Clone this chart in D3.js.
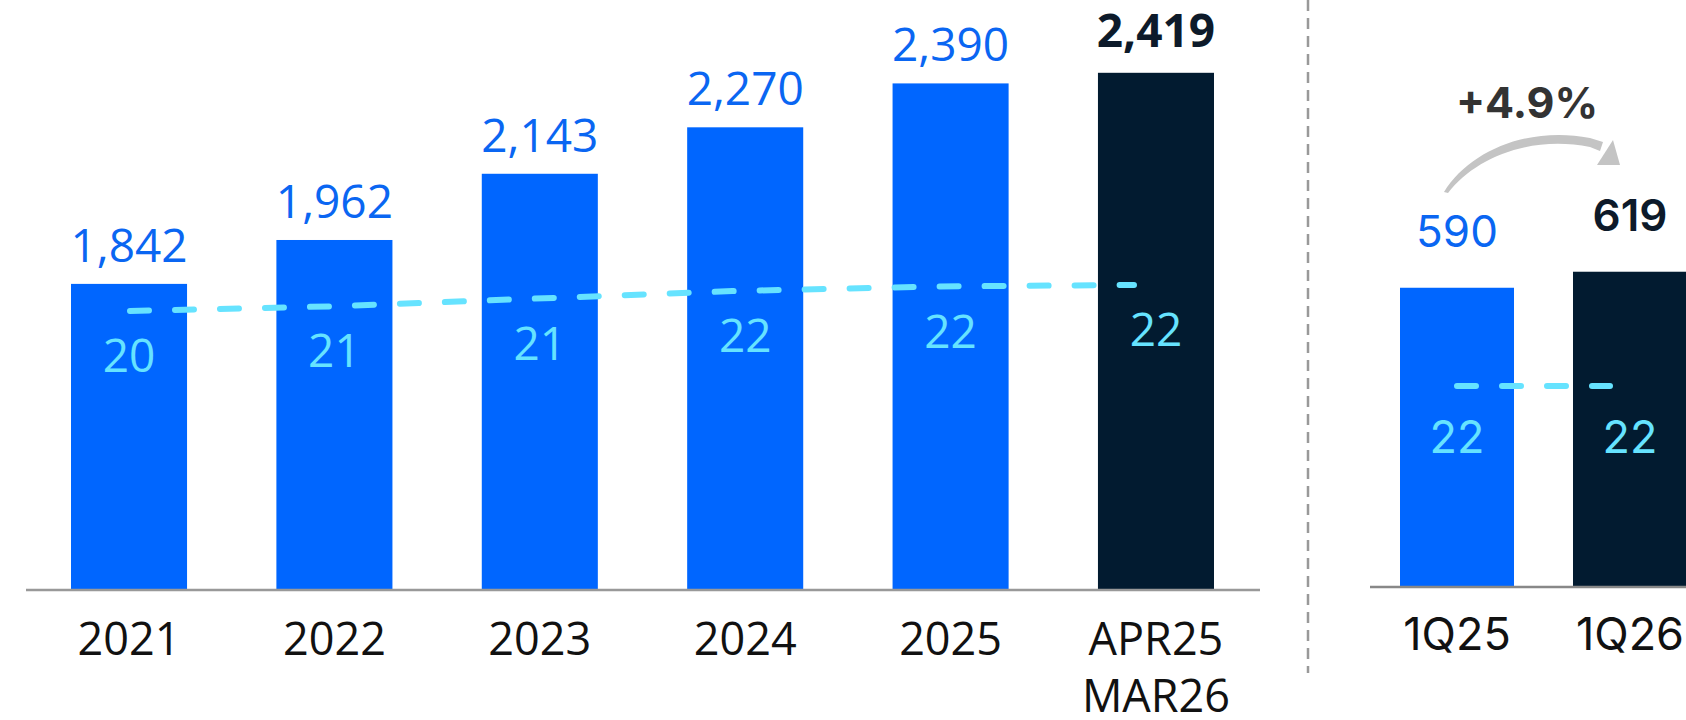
<!DOCTYPE html>
<html><head><meta charset="utf-8">
<script src="https://cdn.jsdelivr.net/npm/d3@7"></script>
<style>html,body{margin:0;padding:0;background:#fff;}svg{display:block;}</style>
</head><body>
<svg id="c" width="1686" height="720"></svg>
<script>
// ---- data ----
const categories = ["2021", "2022", "2023", "2024", "2025", "APR25|MAR26"];
const values = [1842, 1962, 2143, 2270, 2390, 2419];
const lineValues = [20.4, 20.7, 21.2, 21.7, 22.0, 22.1];
const lineLabels = ["20", "21", "21", "22", "22", "22"];

const qCategories = ["1Q25", "1Q26"];
const qValues = [590, 619];
const qLineValues = [22.0, 22.0];
const qLineLabels = ["22", "22"];
const growthLabel = "+4.9%";

// ---- styles ----
const BLUE = "#0066ff", NAVY = "#021b30", CYAN = "#66e3ff", TXTBLUE = "#0a66f2";
const svg = d3.select("#c");

// ---- left panel ----
const x = d3.scaleBand().domain(categories).range([71, 1214]).paddingInner(0.435).paddingOuter(0);
const y = d3.scaleLinear().domain([1008, 2618]).range([589, 0]);
const xl = d3.scalePoint().domain(categories).range([130, 1134]);
const y2 = d3.scaleLinear().domain([20, 22]).range([317.1, 286.5]);
const last = categories.length - 1;

svg.append("g").selectAll("rect").data(categories).join("rect")
  .attr("x", d => x(d)).attr("width", x.bandwidth())
  .attr("y", (d, i) => y(values[i])).attr("height", (d, i) => y(y.domain()[0]) - y(values[i]))
  .attr("fill", (d, i) => i === last ? NAVY : BLUE);

svg.append("line").attr("x1", 26).attr("x2", 1260)
  .attr("y1", y(y.domain()[0]) + 1).attr("y2", y(y.domain()[0]) + 1)
  .attr("stroke", "#999").attr("stroke-width", 2.5);

const fmt = d3.format(",");
svg.append("g").selectAll("text").data(categories).join("text")
  .attr("x", d => x(d) + x.bandwidth() / 2)
  .attr("y", (d, i) => y(values[i]) - (i === last ? 26 : 22))
  .attr("text-anchor", "middle")
  .attr("font-family", "'Open Sans', sans-serif").attr("font-size", 46)
  .attr("font-weight", (d, i) => i === last ? 700 : 400)
  .attr("fill", (d, i) => i === last ? "#0d1a2a" : TXTBLUE)
  .text((d, i) => fmt(values[i]));

svg.append("path")
  .datum(categories)
  .attr("d", d3.line().x(d => xl(d)).y((d, i) => y2(lineValues[i])))
  .attr("fill", "none").attr("stroke", CYAN).attr("stroke-width", 6)
  .attr("stroke-linecap", "round").attr("stroke-dasharray", "19,26");

svg.append("g").selectAll("text").data(categories).join("text")
  .attr("x", d => x(d) + x.bandwidth() / 2)
  .attr("y", (d, i) => y2(lineValues[i]) + 61)
  .attr("text-anchor", "middle")
  .attr("font-family", "'Open Sans', sans-serif").attr("font-size", 46).attr("font-weight", 500)
  .attr("fill", CYAN)
  .text((d, i) => lineLabels[i]);

const catG = svg.append("g").selectAll("text").data(categories).join("text")
  .attr("x", d => x(d) + x.bandwidth() / 2)
  .attr("y", 655)
  .attr("text-anchor", "middle")
  .attr("font-family", "'Open Sans', sans-serif").attr("font-size", 45)
  .attr("font-weight", 500).attr("fill", "#111");
catG.each(function(d) {
  const parts = d.split("|");
  const t = d3.select(this);
  parts.forEach((p, k) => t.append("tspan").attr("x", x(d) + x.bandwidth() / 2).attr("dy", k === 0 ? 0 : 57).text(p));
});

// ---- divider ----
svg.append("line").attr("x1", 1308).attr("x2", 1308).attr("y1", 0).attr("y2", 673)
  .attr("stroke", "#999").attr("stroke-width", 2.5).attr("stroke-dasharray", "11,7");

// ---- right panel ----
const xq = d3.scaleBand().domain(qCategories).range([1400, 1687]).paddingInner(0.341).paddingOuter(0);
const yq = d3.scaleLinear().domain([50, 1111]).range([586, 0]);
const xql = d3.scalePoint().domain(qCategories).range([1457, 1610]);
const y2q = d3.scaleLinear().domain([20, 22]).range([416.6, 386]);

svg.append("g").selectAll("rect").data(qCategories).join("rect")
  .attr("x", d => xq(d)).attr("width", xq.bandwidth())
  .attr("y", (d, i) => yq(qValues[i])).attr("height", (d, i) => yq(yq.domain()[0]) - yq(qValues[i]))
  .attr("fill", (d, i) => i === 1 ? NAVY : BLUE);

svg.append("line").attr("x1", 1370).attr("x2", 1686)
  .attr("y1", 587).attr("y2", 587).attr("stroke", "#888").attr("stroke-width", 2.5);

svg.append("g").selectAll("text").data(qCategories).join("text")
  .attr("x", d => xq(d) + xq.bandwidth() / 2)
  .attr("y", (d, i) => yq(qValues[i]) - 41)
  .attr("text-anchor", "middle")
  .attr("font-family", "Inter, sans-serif").attr("font-size", 44)
  .attr("font-weight", (d, i) => i === 1 ? 600 : 400)
  .attr("fill", (d, i) => i === 1 ? "#0d1a2a" : TXTBLUE)
  .text((d, i) => qValues[i]);

svg.append("path")
  .datum(qCategories)
  .attr("d", d3.line().x(d => xql(d)).y((d, i) => y2q(qLineValues[i])))
  .attr("fill", "none").attr("stroke", CYAN).attr("stroke-width", 6)
  .attr("stroke-linecap", "round").attr("stroke-dasharray", "19,26");

svg.append("g").selectAll("text").data(qCategories).join("text")
  .attr("x", d => xq(d) + xq.bandwidth() / 2)
  .attr("y", (d, i) => y2q(qLineValues[i]) + 67)
  .attr("text-anchor", "middle")
  .attr("font-family", "Inter, sans-serif").attr("font-size", 45).attr("font-weight", 400)
  .attr("fill", CYAN)
  .text((d, i) => qLineLabels[i]);

svg.append("g").selectAll("text").data(qCategories).join("text")
  .attr("x", d => xq(d) + xq.bandwidth() / 2)
  .attr("y", 650)
  .attr("text-anchor", "middle")
  .attr("font-family", "Inter, sans-serif").attr("font-size", 45).attr("font-weight", 400)
  .attr("fill", "#111")
  .text(d => d);

// growth arrow
svg.append("path")
  .attr("d", "M1444,192 C1470,150 1530,126 1590,138 L1603,142 L1600,151 L1590,147 C1530,135 1475,158 1448,193 Z")
  .attr("fill", "#c4c4c4");
svg.append("path")
  .attr("d", "M1613,140 L1620,165 L1597,165 Z")
  .attr("fill", "#c4c4c4");

svg.append("text")
  .attr("x", 1527).attr("y", 118).attr("text-anchor", "middle")
  .attr("font-family", "Inter, sans-serif").attr("font-size", 43).attr("font-weight", 700)
  .attr("fill", "#333")
  .text(growthLabel);
</script>
</body></html>
